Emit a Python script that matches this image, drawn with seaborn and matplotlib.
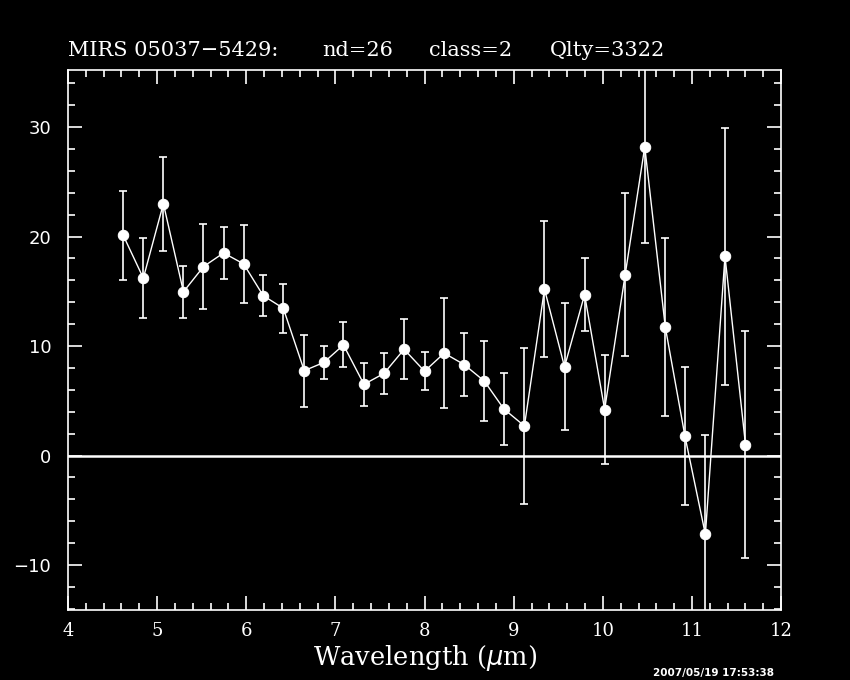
import numpy as np
import pandas as pd
import matplotlib
matplotlib.use("Agg")
import matplotlib.pyplot as plt
import seaborn as sns
from matplotlib.ticker import MultipleLocator

# Values
wavelength = [4.62, 4.845, 5.07, 5.295, 5.52, 5.745, 5.97, 6.19, 6.415, 6.65,
              6.87, 7.09, 7.32, 7.545, 7.77, 8.0, 8.22, 8.445, 8.67, 8.89,
              9.12, 9.345, 9.57, 9.795, 10.02, 10.25, 10.47, 10.70, 10.92, 11.15,
              11.37, 11.6]
flux = [20.1, 16.2, 23.0, 14.95, 17.25, 18.5, 17.5, 14.6, 13.45, 7.75,
        8.5, 10.1, 6.5, 7.5, 9.7, 7.7, 9.35, 8.3, 6.8, 4.25,
        2.7, 15.2, 8.1, 14.7, 4.2, 16.5, 28.2, 11.75, 1.8, -7.2,
        18.2, 1.0]
flux_err = [4.05, 3.65, 4.3, 2.4, 3.9, 2.4, 3.55, 1.85, 2.25, 3.3,
            1.5, 2.05, 1.95, 1.9, 2.75, 1.75, 5.05, 2.85, 3.65, 3.25,
            7.1, 6.2, 5.8, 3.3, 5.0, 7.45, 8.8, 8.1, 6.3, 9.1,
            11.75, 10.4]

# title pieces and where each one starts (figure x fraction)
title_parts = ["MIRS 05037\u22125429:", "nd=26", "class=2", "Qlty=3322"]
title_x = [0.080, 0.379, 0.505, 0.647]
stamp_text = "2007/05/19 17:53:38"

df = pd.DataFrame({"wave": wavelength, "flux": flux, "err": flux_err})

sns.set_theme(style="dark")
plt.rcParams.update({
    "figure.facecolor": "black",
    "axes.facecolor": "black",
    "axes.edgecolor": "white",
    "text.color": "white",
    "xtick.color": "white",
    "ytick.color": "white",
    "axes.grid": False,
})
plt.rcParams["font.family"] = ["DejaVu Sans"]

fig = plt.figure(figsize=(8.5, 6.8), dpi=100)
ax = fig.add_axes([0.08, 0.103, 0.839, 0.794])

ax.axhline(0, color="white", lw=1.8, zorder=1)
ax.errorbar(df["wave"], df["flux"], yerr=df["err"], fmt="none",
            ecolor="white", elinewidth=1.2, capsize=3, capthick=1.2, zorder=2)
sns.lineplot(data=df, x="wave", y="flux", ax=ax, color="white", lw=1.0,
             marker="o", markersize=7.5, markeredgecolor="white",
             markerfacecolor="white", sort=False, zorder=3)

ax.set_xlim(4, 12)
ax.set_ylim(-14.1, 35.2)
ax.xaxis.set_major_locator(MultipleLocator(1))
ax.xaxis.set_minor_locator(MultipleLocator(0.2))
ax.yaxis.set_major_locator(MultipleLocator(10))
ax.yaxis.set_minor_locator(MultipleLocator(2))
ax.tick_params(which="both", direction="in", top=True, right=True,
               bottom=True, left=True, color="white", width=1.2)
ax.tick_params(which="major", length=10, labelsize=13)
ax.tick_params(axis="y", which="major", pad=12)
ax.tick_params(axis="x", which="major", pad=9)
ax.tick_params(which="minor", length=5)
for lab in ax.get_xticklabels():
    lab.set_family("DejaVu Serif")
for s in ax.spines.values():
    s.set_color("white")
    s.set_linewidth(1.2)

ax.set_xlabel("Wavelength ($\\mu$m)", fontsize=18.5, family="DejaVu Serif",
              color="white", labelpad=2)
ax.set_ylabel("")
for txt, xp in zip(title_parts, title_x):
    fig.text(xp, 0.926, txt, fontsize=15, family="DejaVu Serif",
             color="white", ha="left", va="center")
fig.text(0.768, 0.011, stamp_text, fontsize=7.5, fontweight="bold",
         color="white", va="center", ha="left")

fig.savefig("out.png", dpi=100, facecolor="black")
